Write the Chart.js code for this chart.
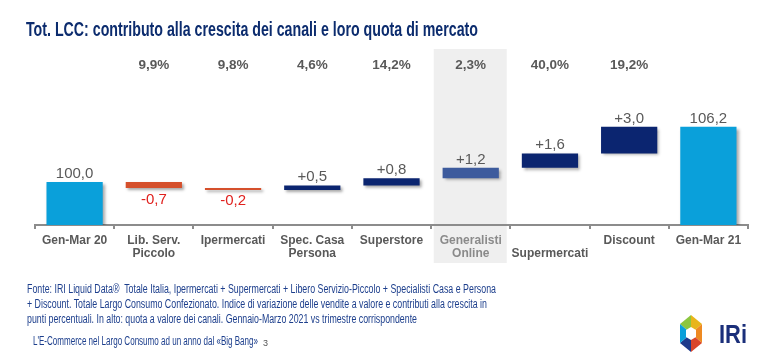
<!DOCTYPE html>
<html>
<head>
<meta charset="utf-8">
<script src="https://cdn.jsdelivr.net/npm/chart.js@4/dist/chart.umd.min.js"></script>
<style>
  html, body { margin:0; padding:0; background:#fff; }
  #wrap { position:relative; width:784px; height:354px; overflow:hidden; background:#fff; }
  #c { position:absolute; left:0; top:0; }
  .txt { position:absolute; white-space:nowrap; transform-origin:0 0; font-family:"Liberation Sans", Arial, sans-serif; }
  #title { left:26px; top:17px; font-size:20px; font-weight:bold; color:#0C2C6E; line-height:24px; }
  .note { left:27px; font-size:12.5px; color:#1C3E8C; line-height:14px; }
  #foot { left:33px; top:334px; font-size:12px; color:#1C3E8C; line-height:14px; }
  #page { left:263px; top:337px; font-size:9px; color:#555; line-height:12px; }
  #logo { position:absolute; left:680px; top:314px; }
</style>
</head>
<body>
<div id="wrap">
  <canvas id="c" width="784" height="354"></canvas>
  <div class="txt" id="title" data-w="452">Tot. LCC: contributo alla crescita dei canali e loro quota di mercato</div>
  <div class="txt note" style="top:282px" data-w="469">Fonte: IRI Liquid Data®&nbsp; Totale Italia, Ipermercati + Supermercati + Libero Servizio-Piccolo + Specialisti Casa e Persona</div>
  <div class="txt note" style="top:297px" data-w="460">+ Discount. Totale Largo Consumo Confezionato. Indice di variazione delle vendite a valore e contributi alla crescita in</div>
  <div class="txt note" style="top:312px" data-w="390">punti percentuali. In alto: quota a valore dei canali. Gennaio-Marzo 2021 vs trimestre corrispondente</div>
  <div class="txt" id="foot" data-w="225">L'E-Commerce nel Largo Consumo ad un anno dal «Big Bang»</div>
  <div class="txt" id="page">3</div>
  <svg id="logo" width="70" height="40" viewBox="0 0 70 40">
    <polygon points="11,1 11,19.5 0,10" fill="#8CC63F"/>
    <polygon points="11,1 22,10 11,19.5" fill="#E8B51A"/>
    <polygon points="22,10 22,29 11,19.5" fill="#EE8A22"/>
    <polygon points="22,29 11,38 11,19.5" fill="#D9452B"/>
    <polygon points="11,38 0,29 11,19.5" fill="#1E3A8A"/>
    <polygon points="0,29 0,10 11,19.5" fill="#0AA0DA"/>
    <polygon points="11,13 16,16 16,23 11,26 6,23 6,16" fill="#fff"/>
    <text x="39" y="29" font-family="Liberation Sans, Arial" font-weight="bold" font-size="25" fill="#1B2F7A" textLength="28" lengthAdjust="spacingAndGlyphs">IRi</text>
  </svg>
</div>
<script>
// ---- data ----
const categories = ['Gen-Mar 20', ['Lib. Serv.', 'Piccolo'], 'Ipermercati', ['Spec. Casa', 'Persona'], 'Superstore', ['Generalisti', 'Online'], ['', 'Supermercati'], 'Discount', 'Gen-Mar 21'];
const values = [100.0, -0.7, -0.2, 0.5, 0.8, 1.2, 1.6, 3.0, 106.2];
const isTotal = [true, false, false, false, false, false, false, false, true];
const shares = ['', '9,9%', '9,8%', '4,6%', '14,2%', '2,3%', '40,0%', '19,2%', ''];
const highlighted = [false, false, false, false, false, true, false, false, false];

// ---- derived floating ranges ----
const Y_MIN = 95.15, Y_MAX = 110;
const ranges = [];
let cum = 0;
values.forEach((v, i) => {
  if (isTotal[i]) { ranges.push([Y_MIN, v]); cum = v; }
  else { ranges.push([cum, cum + v]); cum = cum + v; }
});
const colors = values.map((v, i) => isTotal[i] ? '#0AA0DA' : (highlighted[i] ? '#3D5B9D' : (v < 0 ? '#D5502C' : '#0B2570')));
const fmt = (v, i) => (isTotal[i] ? '' : (v > 0 ? '+' : '')) + v.toFixed(1).replace('.', ',');

const shadePlugin = {
  id: 'shade',
  beforeDraw(chart) {
    const ctx = chart.ctx, x = chart.scales.x;
    ctx.save();
    ctx.fillStyle = '#EFEFEF';
    highlighted.forEach((h, i) => {
      if (!h) return;
      const cx = x.getPixelForValue(i);
      ctx.fillRect(cx - 37, 49, 73, 214);
    });
    ctx.restore();
  },
  beforeDatasetsDraw(chart) {
    const ctx = chart.ctx;
    ctx.save();
    ctx.shadowColor = 'rgba(0,0,0,0.35)';
    ctx.shadowOffsetX = 2;
    ctx.shadowOffsetY = 2;
    ctx.shadowBlur = 3;
  },
  afterDatasetsDraw(chart) { chart.ctx.restore(); },
  afterDraw(chart) {
    const ctx = chart.ctx, x = chart.scales.x;
    const meta = chart.getDatasetMeta(0);
    ctx.save();
    ctx.textAlign = 'center';
    ctx.textBaseline = 'alphabetic';
    // shares row
    ctx.font = 'bold 13.5px "Liberation Sans", Arial, sans-serif';
    ctx.fillStyle = '#595959';
    shares.forEach((s, i) => { if (s) ctx.fillText(s, x.getPixelForValue(i), 69); });
    // value labels
    ctx.font = '15px "Liberation Sans", Arial, sans-serif';
    meta.data.forEach((bar, i) => {
      const v = values[i];
      const top = Math.min(bar.y, bar.base), bottom = Math.max(bar.y, bar.base);
      if (v < 0 && !isTotal[i]) {
        ctx.fillStyle = '#E0211E';
        ctx.fillText(fmt(v, i), bar.x, bottom + 15.5);
      } else {
        ctx.fillStyle = '#595959';
        ctx.fillText(fmt(v, i), bar.x, top - 4);
      }
    });
    ctx.restore();
  }
};

new Chart(document.getElementById('c'), {
  type: 'bar',
  data: {
    labels: categories,
    datasets: [{
      data: ranges,
      backgroundColor: colors,
      borderWidth: 0,
      borderSkipped: false,
      categoryPercentage: 1,
      barPercentage: 0.71
    }]
  },
  options: {
    responsive: false,
    animation: false,
    devicePixelRatio: 1,
    layout: { padding: { left: 35, right: 36, top: 93, bottom: 0 } },
    plugins: { legend: { display: false }, tooltip: { enabled: false }, title: { display: false } },
    scales: {
      y: { display: false, min: Y_MIN, max: Y_MAX },
      x: {
        afterFit(scale) { scale.height = 129; },
        border: { display: true, color: '#8C8C8C', width: 2 },
        grid: { display: true, drawOnChartArea: false, drawTicks: true, tickLength: 4, color: '#8C8C8C', lineWidth: 2, offset: true },
        ticks: {
          padding: 5,
          autoSkip: false,
          maxRotation: 0,
          color: (ctx) => highlighted[ctx.index] ? '#8A8A8A' : '#595959',
          font: { family: '"Liberation Sans", Arial, sans-serif', size: 12, weight: 'bold', lineHeight: 1.1 }
        }
      }
    }
  },
  plugins: [shadePlugin]
});

// fit condensed text lines to the reference widths
document.querySelectorAll('.txt[data-w]').forEach(el => {
  const w = parseFloat(el.dataset.w);
  const actual = el.getBoundingClientRect().width;
  if (actual > 0) el.style.transform = 'scaleX(' + (w / actual).toFixed(4) + ')';
});
</script>
</body>
</html>
